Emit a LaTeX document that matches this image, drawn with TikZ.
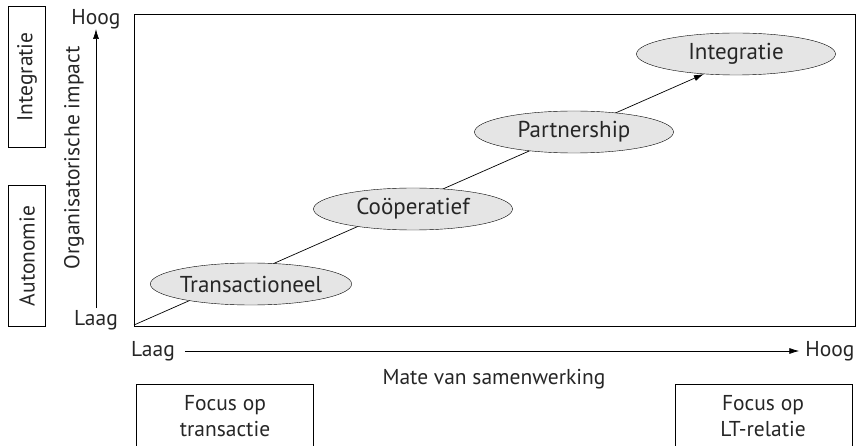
\documentclass[tikz,border=0pt]{standalone}
\usepackage{fontspec}
\setmainfont{PT Sans}
\usetikzlibrary{shapes.geometric,arrows.meta,backgrounds}
\begin{document}
\begin{tikzpicture}[x=1pt,y=-1pt,
  lbl/.style={font=\fontsize{21.5}{26}\selectfont, inner sep=0pt, text=black!85},
  phase/.style={ellipse, draw, fill=gray!20, minimum width=199pt, minimum height=42pt, inner sep=0pt, font=\fontsize{23}{26}\selectfont, text=black!85},
  sidebox/.style={draw, line width=0.8pt, inner sep=0pt, font=\fontsize{21.5}{26}\selectfont, text=black!85},
  ln/.style={line width=0.7pt},
  tip/.style={-{Latex[length=10pt,width=6pt]}}]
\useasboundingbox (0,0) rectangle (859,446);
% frame
\node[draw, line width=0.8pt, minimum width=721pt, minimum height=312pt, anchor=north west, inner sep=0pt] (frame) at (134,14) {};
\coordinate (origin) at (134,325);
% ellipses
\node[phase] (integ) at (736,54) {Integratie};
\node[phase] (partn) at (574,132) {Partnership};
\node[phase] (coop) at (413,209) {Coöperatief};
\node[phase] (trans) at (251,284) {Transactioneel};
\begin{scope}[on background layer]
\draw[ln, tip] (origin) -- (integ.212);
\end{scope}
% vertical axis
\node[lbl] (yhi) at (96,19) {Hoog};
\node[lbl] (ylo) at (96,320) {Laag};
\coordinate (ybot) at (96,308);
\coordinate (ytop) at (96,29);
\draw[ln, tip] (ybot) -- (ytop);
\node[lbl, rotate=90] (ylab) at (74,158) {Organisatorische impact};
% side boxes
\node[sidebox, rotate=90, minimum width=141pt, minimum height=37pt] (bint) at (27,77) {Integratie};
\node[sidebox, rotate=90, minimum width=141pt, minimum height=37pt] (baut) at (27,256) {Autonomie};
% horizontal axis
\node[lbl] (xlo) at (153,351) {Laag};
\node[lbl] (xhi) at (830,351) {Hoog};
\draw[ln, tip] ([xshift=10pt]xlo.east) -- ([xshift=-6pt]xhi.west);
\node[lbl] (xlab) at (494,379) {Mate van samenwerking};
% bottom boxes
\draw[line width=0.8pt] (136,447) -- (136,384) -- (313,384) -- (313,447);
\draw[line width=0.8pt] (675,447) -- (675,384) -- (852,384) -- (852,447);
\node[lbl, align=center] (fl) at (225,416) {Focus op\\transactie};
\node[lbl, align=center] (fr) at (763,416) {Focus op\\LT-relatie};
\end{tikzpicture}
\end{document}
